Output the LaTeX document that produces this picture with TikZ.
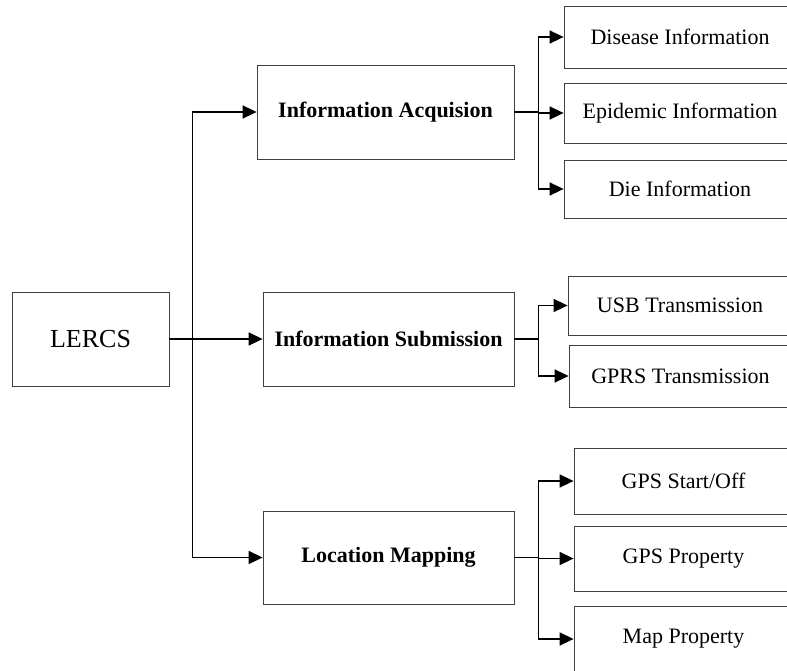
\documentclass[tikz,border=0pt]{standalone}
\usepackage{fontspec}
\setmainfont{Liberation Serif}
\usetikzlibrary{arrows.meta}

\begin{document}
\begin{tikzpicture}[x=1pt, y=-1pt,
    box/.style={draw=black!75, line width=0.8pt, rectangle, inner sep=0pt, font=\fontsize{22}{26}\selectfont},
    mainbox/.style={box, font=\fontsize{22}{26}\selectfont\bfseries},
    arr/.style={line width=1.5pt, -{Triangle[length=14pt, width=13pt]}}]

    \clip (0,0) rectangle (787,670);

    \node (LERCS) [box, minimum width=157pt, minimum height=94pt, font=\fontsize{26}{30}\selectfont] at (90.5,339) {LERCS};

    \node (acq) [mainbox, minimum width=257pt, minimum height=94pt] at (385.5,112) {Information Acquision};
    \node (sub) [mainbox, minimum width=251pt, minimum height=94pt] at (388.5,339) {Information Submission};
    \node (loc) [mainbox, minimum width=251pt, minimum height=93pt] at (388.5,557.5) {Location Mapping};

    \node (disease)  [box, minimum width=232pt, minimum height=62pt] at (680,37) {Disease Information};
    \node (epidemic) [box, minimum width=232pt, minimum height=60pt] at (680,113) {Epidemic Information};
    \node (die)      [box, minimum width=232pt, minimum height=58pt] at (680,189) {Die Information};

    \node (usb)  [box, minimum width=224pt, minimum height=59pt] at (680,305.5) {USB Transmission};
    \node (gprs) [box, minimum width=223pt, minimum height=62pt] at (680.5,376) {GPRS Transmission};

    \node (gpsso)   [box, minimum width=219pt, minimum height=66pt] at (683.5,481) {GPS Start/Off};
    \node (gpsprop) [box, minimum width=219pt, minimum height=65pt] at (683.5,558.5) {GPS Property};
    \node (map)     [box, minimum width=219pt, minimum height=66pt] at (683.5,639) {Map Property};

    \draw [arr] (LERCS.east) -- (sub.west);
    \draw [arr] (LERCS.east) -- ++(23,0) |- (acq.west);
    \draw [arr] (LERCS.east) -- ++(23,0) |- (loc.west);

    \draw [arr] (acq.east) -- ++(24,0) |- (disease.west);
    \draw [arr] (acq.east) -- ++(24,0) |- (epidemic.west);
    \draw [arr] (acq.east) -- ++(24,0) |- (die.west);

    \draw [arr] (sub.east) -- ++(24,0) |- (usb.west);
    \draw [arr] (sub.east) -- ++(24,0) |- (gprs.west);

    \draw [arr] (loc.east) -- ++(24,0) |- (gpsso.west);
    \draw [arr] (loc.east) -- ++(24,0) |- (gpsprop.west);
    \draw [arr] (loc.east) -- ++(24,0) |- (map.west);

\end{tikzpicture}
\end{document}
